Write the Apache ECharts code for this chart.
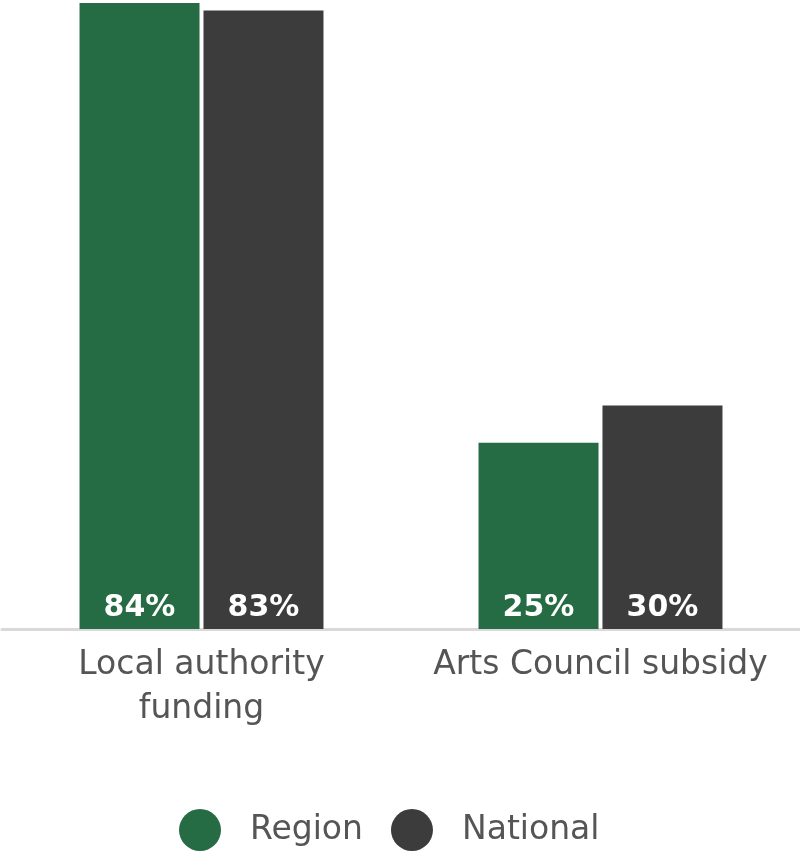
<!DOCTYPE html>
<html>
<head>
<meta charset="utf-8">
<script src="https://cdn.jsdelivr.net/npm/echarts@6/dist/echarts.min.js"></script>
<style>
  html, body { margin: 0; padding: 0; background: #fff; }
  #chart { width: 800px; height: 851px; }
</style>
</head>
<body>
<div id="chart"></div>
<script>
// categories and values
const categories = ["Local authority\nfunding", "Arts Council subsidy"];
const regionValues = [84, 25];
const nationalValues = [83, 30];
const seriesNames = ["Region", "National"];

const FONT = "'DejaVu Sans', sans-serif";
const chart = echarts.init(document.getElementById("chart"));

const barLabel = {
  show: true,
  position: "insideBottom",
  distance: 6,
  color: "#fff",
  fontFamily: FONT,
  fontWeight: "bold",
  fontSize: 30,
  formatter: (p) => p.value + "%",
};

let option = {
  animation: false,
  grid: { left: 2, right: -4, top: 3, bottom: 222 },
  legend: {
    data: seriesNames,
    left: 174,
    top: 804,
    icon: "circle",
    itemWidth: 42,
    itemHeight: 42,
    itemGap: 28,
    textStyle: { fontFamily: FONT, fontSize: 33, color: "#555", padding: [0, 0, 0, 24] },
  },
  xAxis: {
    type: "category",
    data: categories,
    axisLine: { lineStyle: { color: "#d9d9d9", width: 3 } },
    axisTick: { show: false },
    axisLabel: {
      interval: 0,
      hideOverlap: false,
      margin: 14,
      fontFamily: FONT,
      fontSize: 33,
      lineHeight: 44,
      color: "#555",
    },
  },
  yAxis: {
    type: "value",
    min: 0,
    max: 84,
    show: false,
    splitLine: { show: false },
  },
  series: [
    {
      name: seriesNames[0],
      type: "bar",
      data: regionValues,
      barWidth: 120,
      barGap: "3.3%",
      itemStyle: { color: "#256b43" },
      label: barLabel,
    },
    {
      name: seriesNames[1],
      type: "bar",
      data: nationalValues,
      barWidth: 120,
      itemStyle: { color: "#3c3c3c" },
      label: barLabel,
    },
  ],
};

option && chart.setOption(option);
</script>
</body>
</html>
